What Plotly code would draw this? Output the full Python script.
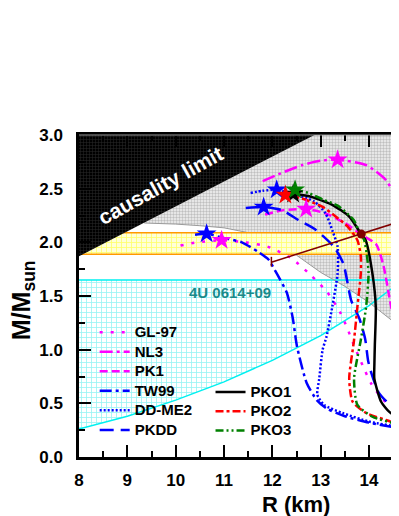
import plotly.graph_objects as go

FONT = "Liberation Sans"

# axis extents (data units)
R_RANGE = [8.0, 14.62]
M_RANGE = [0.0, 3.0]
R_EXT = 15.5  # regions continue beyond the visible right edge

# constraint regions
CAUSAL_R = [8.0, 12.87]
CAUSAL_M = [1.87, 3.0]
GRAY_R = [9.35, 10.0, 10.5, 11.0, 11.5, 12.0, 12.5, 13.0, 13.5, 14.0, 14.62, 15.5]
GRAY_M = [2.18, 2.17, 2.155, 2.135, 2.09, 2.0, 1.88, 1.72, 1.59, 1.44, 1.22, 0.9]
BAND_M = [1.89, 2.09]
CYAN_R = [8.0, 9.0, 10.0, 11.0, 12.0, 13.0, 14.0, 14.71]
CYAN_M = [0.26, 0.38, 0.53, 0.70, 0.90, 1.13, 1.41, 1.65]
CYAN_TOP = 1.65

# EOS mass-radius curves
GL97_R = [10.1, 10.44, 10.95, 11.44, 11.9, 12.4, 12.78, 13.13, 13.4, 13.55, 13.68, 13.87, 14.05, 14.3, 14.6, 15.0]
GL97_M = [1.97, 2.00, 2.02, 2.00, 1.96, 1.85, 1.70, 1.54, 1.35, 1.20, 1.05, 0.85, 0.68, 0.53, 0.43, 0.36]
NL3_R = [11.8, 12.16, 12.62, 13.0, 13.35, 13.94, 14.35, 14.62, 14.9, 15.2, 15.5]
NL3_M = [2.57, 2.64, 2.72, 2.76, 2.77, 2.72, 2.58, 2.36, 2.0, 1.5, 1.0]
PK1_R = [11.85, 12.23, 12.70, 13.1, 13.5, 13.85, 14.15, 14.3, 14.42, 14.52, 14.59, 14.62, 14.8, 15.2]
PK1_M = [2.26, 2.30, 2.31, 2.27, 2.18, 2.07, 1.98, 1.78, 1.49, 1.25, 1.03, 0.86, 0.6, 0.4]
TW99_R = [10.4, 10.64, 10.99, 11.37, 11.71, 11.92, 12.09, 12.3, 12.42, 12.51, 12.71, 12.92, 13.13, 13.5, 14.0, 14.62, 15.0]
TW99_M = [2.07, 2.08, 2.04, 2.0, 1.91, 1.84, 1.71, 1.53, 1.3, 1.03, 0.69, 0.53, 0.45, 0.38, 0.32, 0.27, 0.25]
DDME2_R = [11.55, 11.8, 12.09, 12.5, 12.87, 13.1, 13.25, 13.35, 13.35, 13.24, 13.12, 13.04, 12.97, 12.93, 13.07, 13.45, 14.0, 14.62, 15.0]
DDME2_M = [2.46, 2.48, 2.49, 2.44, 2.38, 2.27, 2.1, 1.96, 1.71, 1.40, 1.12, 1.0, 0.73, 0.58, 0.485, 0.41, 0.33, 0.28, 0.26]
PKDD_R = [11.45, 11.82, 12.2, 12.53, 12.89, 13.27, 13.47, 13.63, 13.8, 13.92, 13.98, 14.05, 14.2, 14.4, 14.62, 15.0]
PKDD_M = [2.32, 2.33, 2.30, 2.21, 2.12, 1.96, 1.80, 1.46, 1.29, 1.10, 0.90, 0.78, 0.60, 0.50, 0.43, 0.37]
PKO1_R = [12.43, 12.76, 13.24, 13.59, 13.84, 13.93, 14.07, 14.14, 14.12, 14.11, 14.11, 14.25, 14.42, 14.59, 15.0]
PKO1_M = [2.45, 2.43, 2.35, 2.24, 2.075, 2.02, 1.71, 1.40, 1.04, 0.85, 0.73, 0.515, 0.42, 0.375, 0.32]
PKO2_R = [12.27, 12.6, 13.04, 13.31, 13.55, 13.76, 13.83, 13.83, 13.76, 13.69, 13.59, 13.66, 13.94, 14.35, 14.59, 15.0]
PKO2_M = [2.44, 2.41, 2.33, 2.24, 2.15, 2.02, 1.87, 1.71, 1.40, 1.09, 0.73, 0.515, 0.41, 0.345, 0.31, 0.28]
PKO3_R = [12.47, 12.75, 13.04, 13.36, 13.68, 13.78, 13.9, 13.95, 13.99, 13.94, 13.83, 13.69, 13.76, 14.07, 14.56, 15.0]
PKO3_M = [2.49, 2.46, 2.40, 2.34, 2.21, 2.12, 2.02, 1.90, 1.71, 1.40, 1.09, 0.73, 0.485, 0.375, 0.31, 0.28]

# observational line + point
OBS_R = [11.98, 13.84, 15.0]
OBS_M = [1.815, 2.077, 2.245]
OBS_ERR_R = [11.98, 11.98]
OBS_ERR_M = [1.775, 1.865]
OBS_PT_R = [13.84]
OBS_PT_M = [2.077]

fig = go.Figure()

def fill(x, y, bg, fg, shape, size, sol, name):
    fig.add_trace(go.Scatter(x=x, y=y, fill="toself", mode="none", showlegend=False,
                             hoverinfo="skip", fillcolor=bg, name=name,
                             fillpattern=dict(shape=shape, bgcolor=bg, fgcolor=fg,
                                              size=size, solidity=sol)))

def line(x, y, color, width, name=""):
    fig.add_trace(go.Scatter(x=x, y=y, mode="lines", showlegend=False, hoverinfo="skip",
                             line=dict(color=color, width=width), name=name))

# cyan region (4U 0614+09)
fill(CYAN_R + [R_RANGE[0]], CYAN_M + [CYAN_TOP], "#ffffff", "#30e8e8", "+", 5, 0.3, "cyan")
# gray region
fill(GRAY_R + [GRAY_R[-1], R_RANGE[0]], GRAY_M + [M_RANGE[1], M_RANGE[1]],
     "#f2f2f2", "#8c8c8c", ".", 3, 0.5, "gray")
line(CYAN_R, CYAN_M, "#00f0f0", 1.5)
line([R_RANGE[0], CYAN_R[-1]], [CYAN_TOP, CYAN_TOP], "#00f0f0", 1.5)
line(GRAY_R, GRAY_M, "#9a9a9a", 1)
# yellow band
fill([R_RANGE[0], R_EXT, R_EXT, R_RANGE[0]], [BAND_M[0], BAND_M[0], BAND_M[1], BAND_M[1]],
     "#ffffd8", "#ffff00", "+", 5, 0.3, "band")
line([R_RANGE[0], R_EXT], [BAND_M[0], BAND_M[0]], "#ff9900", 1.5)
line([R_RANGE[0], R_EXT], [BAND_M[1], BAND_M[1]], "#ff9900", 1.5)
# causality region
fill(CAUSAL_R + [R_RANGE[0]], CAUSAL_M + [M_RANGE[1]], "#000000", "#555555", "+", 3, 0.3, "causal")

MAG, BLU = "#ff00ff", "#0000ff"
curves = [
    ("GL-97", GL97_R, GL97_M, MAG, "3px,8px", "legend"),
    ("NL3", NL3_R, NL3_M, MAG, "13px,4px,3px,4px", "legend"),
    ("PK1", PK1_R, PK1_M, MAG, "8px,4px", "legend"),
    ("TW99", TW99_R, TW99_M, BLU, "12px,4px,3px,4px", "legend"),
    ("DD-ME2", DDME2_R, DDME2_M, BLU, "2px,2px", "legend"),
    ("PKDD", PKDD_R, PKDD_M, BLU, "14px,7px", "legend"),
    ("PKO1", PKO1_R, PKO1_M, "#000000", "solid", "legend2"),
    ("PKO2", PKO2_R, PKO2_M, "#ff0000", "8px,3px,3px,3px", "legend2"),
    ("PKO3", PKO3_R, PKO3_M, "#008000", "8px,3px,2px,3px,2px,3px", "legend2"),
]
for name, r, m, col, dash, lg in curves:
    fig.add_trace(go.Scatter(
        x=r, y=m, mode="lines", name=f'<span style="font-size:15px"><b>{name}</b></span>',
        line=dict(color=col, width=2.5, dash=dash, shape="spline", smoothing=0.6),
        legend=lg, hoverinfo="skip"))

# observation
line(OBS_R, OBS_M, "#800000", 1.5)
line(OBS_ERR_R, OBS_ERR_M, "#800000", 1.5)
fig.add_trace(go.Scatter(x=OBS_PT_R, y=OBS_PT_M, mode="markers", showlegend=False,
                         marker=dict(color="#800000", size=9), hoverinfo="skip"))

# maximum-mass stars
for name, r, m, col, dash, lg in curves:
    i = m.index(max(m))
    fig.add_trace(go.Scatter(x=[r[i]], y=[m[i]], mode="markers", showlegend=False,
                             marker=dict(symbol="star", size=15, color=col, line=dict(width=0)),
                             hoverinfo="skip"))

bold = dict(family=FONT, weight="bold", color="black")
# the page body has an 8px margin; size the figure so the plot lands where the reference's does
fig.update_layout(
    width=391, height=508,
    margin=dict(l=71, r=0, t=127, b=59),
    plot_bgcolor="white", paper_bgcolor="white",
    font=dict(family=FONT),
    legend=dict(x=0.049, y=0.433, xanchor="left", yanchor="top", bgcolor="rgba(0,0,0,0)",
                font=dict(family=FONT, size=12.7, color="black"), tracegroupgap=0),
    legend2=dict(x=0.411, y=0.247, xanchor="left", yanchor="top", bgcolor="rgba(0,0,0,0)",
                 font=dict(family=FONT, size=12.5, color="black"), tracegroupgap=0),
    xaxis=dict(range=R_RANGE, showline=True, linecolor="black", linewidth=2.5, mirror="ticks",
               ticks="inside", ticklen=12, tickwidth=2, tickcolor="black", dtick=1, tick0=8,
               minor=dict(dtick=0.5, ticks="inside", ticklen=6, tickwidth=2, tickcolor="black"),
               showgrid=False, zeroline=False, tickfont=dict(size=17, **bold),
               ticklabelstandoff=6),
    yaxis=dict(range=M_RANGE, showline=True, linecolor="black", linewidth=2.5,
               ticks="inside", ticklen=12, tickwidth=2, tickcolor="black", dtick=0.5, tick0=0,
               tickformat=".1f",
               minor=dict(dtick=0.25, ticks="inside", ticklen=6, tickwidth=2, tickcolor="black"),
               showgrid=False, zeroline=False, tickfont=dict(size=17, **bold),
               ticklabelstandoff=10),
    shapes=[dict(type="line", xref="paper", yref="paper", x0=0, x1=1, y0=1, y1=1,
                 line=dict(color="#999999", width=1))],
    annotations=[
        dict(text="causality limit", x=9.68, y=2.53, xref="x", yref="y", showarrow=False,
             textangle=-29, font=dict(family=FONT, size=21, weight="bold", color="white")),
        dict(text="4U 0614+09", x=11.13, y=1.53, xref="x", yref="y", showarrow=False,
             font=dict(family=FONT, size=15, weight="bold", color="#1a8a8a")),
        dict(text="R (km)", x=12.49, y=-0.147, xref="x", yref="paper", showarrow=False,
             yanchor="middle", font=dict(family=FONT, size=22, weight="bold", color="black")),
        dict(text="M/M<sub>sun</sub>", x=-0.175, y=0.487, xref="paper", yref="paper",
             showarrow=False, textangle=-90, xanchor="center", yanchor="middle",
             font=dict(family=FONT, size=25, weight="bold", color="black")),
    ],
)

fig.write_html("out.html")
